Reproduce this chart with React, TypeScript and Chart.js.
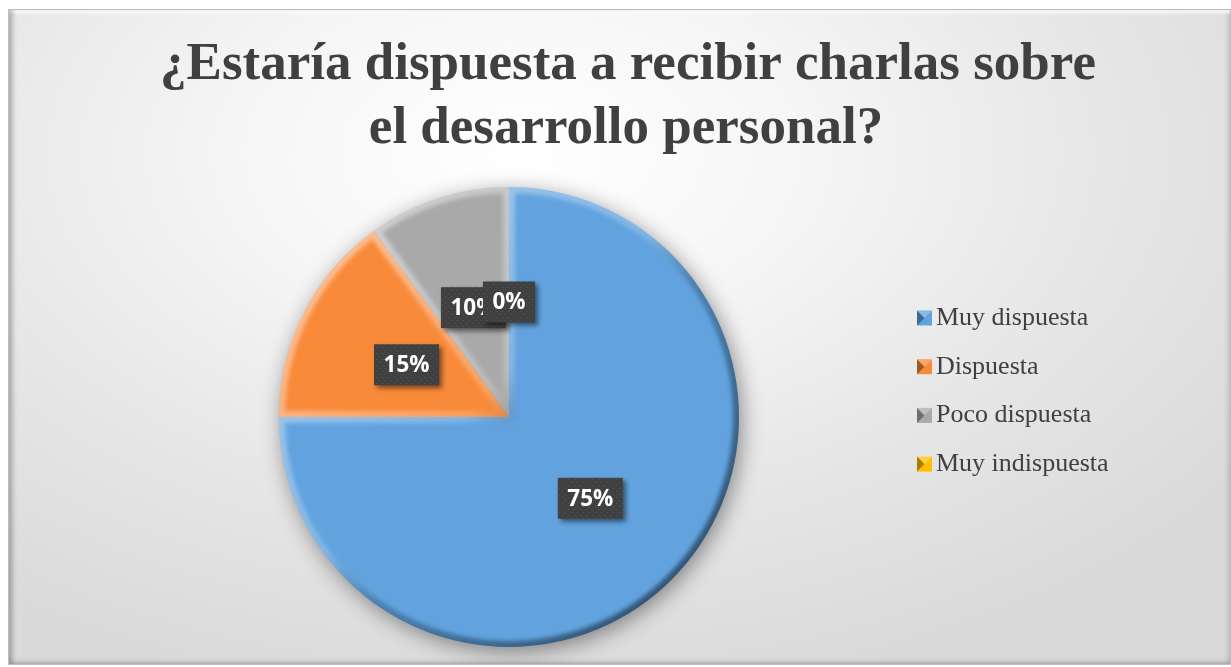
import React, { useEffect, useRef } from "react";
import { Chart, registerables } from "chart.js";

Chart.register(...registerables);

const categories = ["Muy dispuesta", "Dispuesta", "Poco dispuesta", "Muy indispuesta"];
const values = [75, 15, 10, 0];
const sliceColors = ["#62a3df", "#f98a3a", "#a9a9a9", "#ffc000"];
const titleLines = ["¿Estaría dispuesta a recibir charlas sobre", "el desarrollo personal?"];

const W = 1223;
const H = 656;

function makeDotPattern(ctx: CanvasRenderingContext2D) {
  const c = document.createElement("canvas");
  c.width = 6;
  c.height = 6;
  const p = c.getContext("2d")!;
  p.fillStyle = "#404040";
  p.fillRect(0, 0, 6, 6);
  p.fillStyle = "#575757";
  p.fillRect(1, 1, 1, 1);
  p.fillRect(4, 4, 1, 1);
  return ctx.createPattern(c, "repeat");
}

const decorPlugin = {
  id: "decor",
  beforeDatasetsDraw(chart: any) {
    const meta = chart.getDatasetMeta(0);
    const arc = meta.data[0];
    if (!arc) return;
    const { x, y, outerRadius } = arc.getProps(["x", "y", "outerRadius"], true);
    const ctx = chart.ctx;
    ctx.save();
    ctx.shadowColor = "rgba(0,0,0,0.45)";
    ctx.shadowBlur = 22;
    ctx.shadowOffsetX = 3;
    ctx.shadowOffsetY = 5;
    ctx.beginPath();
    ctx.arc(x, y, outerRadius - 1, 0, Math.PI * 2);
    ctx.fillStyle = "#777";
    ctx.fill();
    ctx.restore();
  },
  afterDatasetsDraw(chart: any) {
    const ctx = chart.ctx;
    const meta = chart.getDatasetMeta(0);
    // bevel
    meta.data.forEach((el: any) => {
      const { x, y, startAngle, endAngle, outerRadius } = el.getProps(
        ["x", "y", "startAngle", "endAngle", "outerRadius"],
        true
      );
      if (endAngle - startAngle <= 0.0001) return;
      ctx.save();
      ctx.beginPath();
      ctx.moveTo(x, y);
      ctx.arc(x, y, outerRadius, startAngle, endAngle);
      ctx.closePath();
      ctx.clip();
      const g = ctx.createLinearGradient(x - outerRadius, y - outerRadius, x + outerRadius, y + outerRadius);
      g.addColorStop(0, "rgba(255,255,255,0.55)");
      g.addColorStop(0.45, "rgba(255,255,255,0.2)");
      g.addColorStop(0.55, "rgba(0,0,0,0.2)");
      g.addColorStop(1, "rgba(0,0,0,0.6)");
      ctx.filter = "blur(2px)";
      ctx.lineWidth = 12;
      ctx.lineJoin = "round";
      ctx.strokeStyle = g;
      ctx.stroke();
      ctx.restore();
    });
    // labels
    const total = values.reduce((a, b) => a + b, 0);
    const pattern = makeDotPattern(ctx);
    meta.data.forEach((el: any, i: number) => {
      const pos = el.tooltipPosition(true);
      const txt = Math.round((values[i] / total) * 100) + "%";
      ctx.save();
      ctx.font = 'bold 22.5px "Open Sans"';
      const tw = ctx.measureText(txt).width;
      const bw = tw + 19;
      const bh = 41;
      const bx = pos.x - bw / 2;
      const by = pos.y - bh / 2;
      ctx.shadowColor = "rgba(0,0,0,0.5)";
      ctx.shadowBlur = 5;
      ctx.shadowOffsetX = 3;
      ctx.shadowOffsetY = 3;
      ctx.fillStyle = pattern || "#404040";
      ctx.fillRect(bx, by, bw, bh);
      ctx.shadowColor = "transparent";
      ctx.fillStyle = "#ffffff";
      ctx.textAlign = "center";
      ctx.textBaseline = "middle";
      ctx.fillText(txt, pos.x, pos.y + 1);
      ctx.restore();
    });
  },
  afterDraw(chart: any) {
    const ctx = chart.ctx;
    ctx.save();
    // title
    ctx.fillStyle = "#404040";
    ctx.font = 'bold 53px "Liberation Serif"';
    ctx.textAlign = "center";
    ctx.textBaseline = "alphabetic";
    ctx.fillText(titleLines[0], 619, 69);
    ctx.fillText(titleLines[1], 617, 133);
    // legend
    ctx.font = '26px "Liberation Serif"';
    ctx.textAlign = "left";
    ctx.textBaseline = "middle";
    categories.forEach((cat, i) => {
      const cy = 308 + i * 48.7;
      const mx = 908;
      const s = 15;
      ctx.fillStyle = sliceColors[i];
      ctx.fillRect(mx, cy - s / 2, s, s);
      ctx.fillStyle = "rgba(0,0,0,0.35)";
      ctx.beginPath();
      ctx.moveTo(mx, cy - s / 2);
      ctx.lineTo(mx + s / 2, cy);
      ctx.lineTo(mx, cy + s / 2);
      ctx.closePath();
      ctx.fill();
      ctx.fillStyle = "rgba(255,255,255,0.25)";
      ctx.beginPath();
      ctx.moveTo(mx, cy - s / 2);
      ctx.lineTo(mx + s, cy - s / 2);
      ctx.lineTo(mx + s / 2, cy);
      ctx.closePath();
      ctx.fill();
      ctx.fillStyle = "#404040";
      ctx.fillText(cat, 927, cy);
    });
    ctx.restore();
  },
};

export default function App() {
  const ref = useRef<HTMLCanvasElement | null>(null);
  useEffect(() => {
    if (!ref.current) return;
    const chart = new Chart(ref.current, {
      type: "pie",
      data: {
        labels: categories,
        datasets: [
          {
            data: values,
            backgroundColor: sliceColors,
            borderWidth: 0,
          },
        ],
      },
      options: {
        responsive: false,
        animation: false,
        layout: { padding: { top: 177, bottom: 17, left: 270, right: 491 } },
        plugins: {
          legend: { display: false },
          title: { display: false },
          tooltip: { enabled: false },
        },
      },
      plugins: [decorPlugin],
    });
    return () => chart.destroy();
  }, []);

  return (
    <div
      style={{
        position: "absolute",
        left: 8,
        top: 9,
        width: W,
        height: H,
        boxSizing: "border-box",
        border: "1px solid #bdbdbd",
        background:
          "radial-gradient(ellipse 75% 85% at 42% 22%, #ffffff 0%, #f6f6f6 30%, #e6e6e6 65%, #d9d9d9 100%)",
        boxShadow:
          "inset 5px 0 4px -1px rgba(0,0,0,0.22), inset 0 5px 3px -2px rgba(255,255,255,1), inset 0 -4px 4px -1px rgba(0,0,0,0.12), inset -4px 0 4px -1px rgba(0,0,0,0.1)",
        overflow: "hidden",
      }}
    >
      <canvas
        ref={ref}
        width={W - 2}
        height={H - 2}
        style={{ display: "block", width: W - 2, height: H - 2 }}
      />
    </div>
  );
}
